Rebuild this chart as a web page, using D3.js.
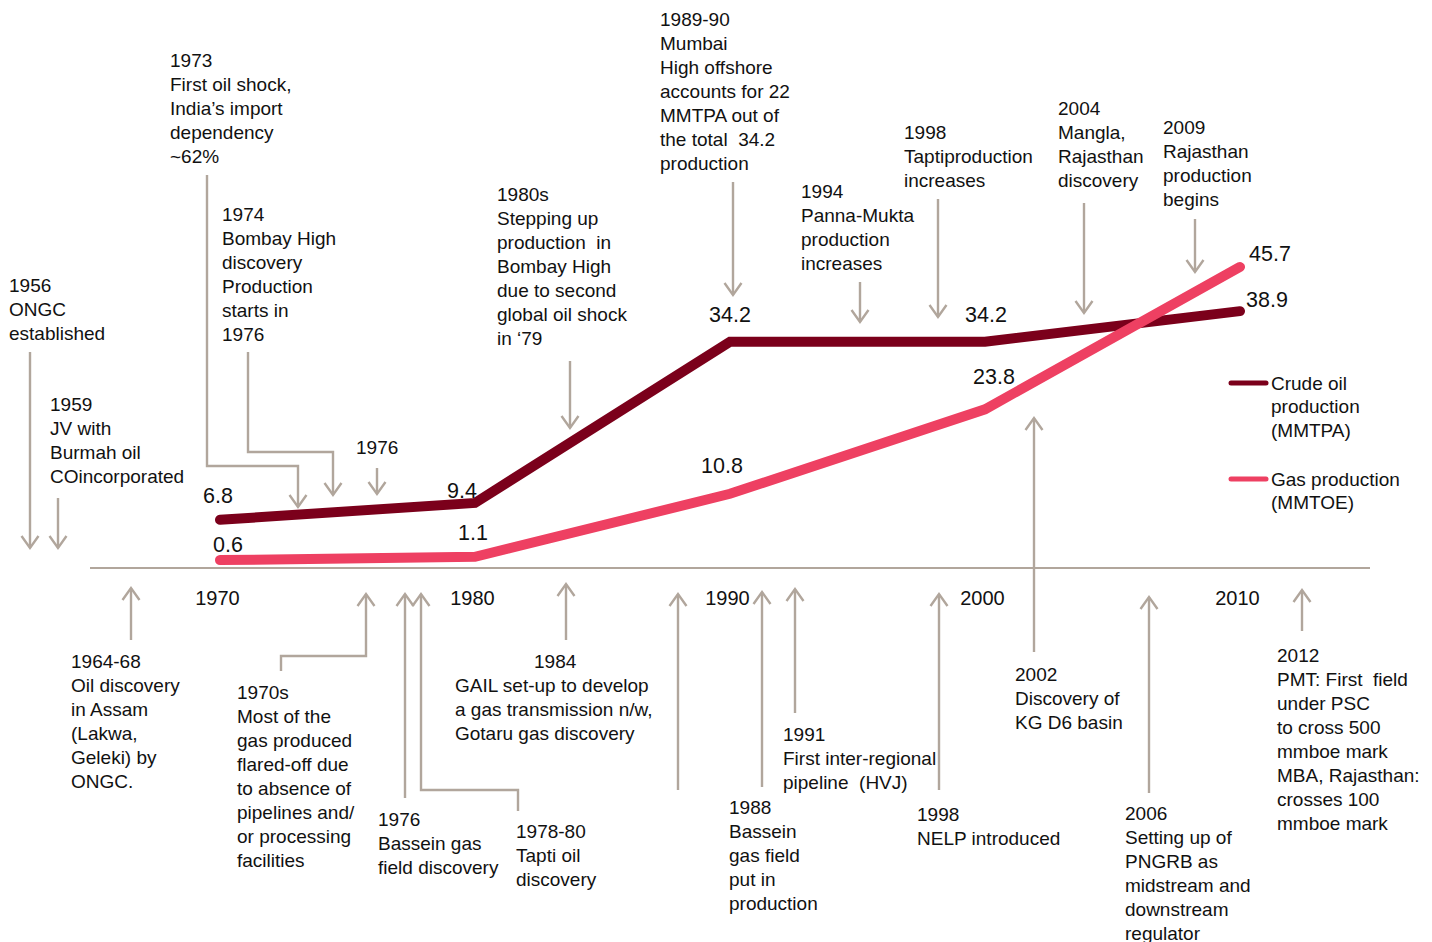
<!DOCTYPE html>
<html>
<head>
<meta charset="utf-8">
<script src="https://cdn.jsdelivr.net/npm/d3@7"></script>
<style>
  html, body { margin: 0; padding: 0; background: #fff; }
  svg { display: block; }
  text { font-family: "Liberation Sans", Arial, Helvetica, sans-serif; fill: #111; white-space: pre; }
</style>
</head>
<body>
<svg id="chart" width="1432" height="942"></svg>
<script>
// ---- data ----
const years = [1970, 1980, 1990, 2000, 2010];
const crudeOil = [6.8, 9.4, 34.2, 34.2, 38.9];   // MMTPA
const gasProd  = [0.6, 1.1, 10.8, 23.8, 45.7];   // MMTOE
const tickYears = [1970, 1980, 1990, 2000, 2010];
const legendLabels = [
  ["Crude oil", "production", "(MMTPA)"],
  ["Gas production", "(MMTOE)"]
];

// timeline milestones (text only)
const milestones = [
  ["1956", "ONGC", "established"],
  ["1959", "JV with", "Burmah oil", "COincorporated"],
  ["1973", "First oil shock,", "India\u2019s import", "dependency", "~62%"],
  ["1974", "Bombay High", "discovery", "Production", "starts in", "1976"],
  ["1976"],
  ["1980s", "Stepping up", "production  in", "Bombay High", "due to second", "global oil shock", "in \u201879"],
  ["1989-90", "Mumbai", "High offshore", "accounts for 22", "MMTPA out of", "the total  34.2", "production"],
  ["1994", "Panna-Mukta", "production", "increases"],
  ["1998", "Taptiproduction", "increases"],
  ["2004", "Mangla,", "Rajasthan", "discovery"],
  ["2009", "Rajasthan", "production", "begins"],
  ["1964-68", "Oil discovery", "in Assam", "(Lakwa,", "Geleki) by", "ONGC."],
  ["1970s", "Most of the", "gas produced", "flared-off due", "to absence of", "pipelines and/", "or processing", "facilities"],
  ["1976", "Bassein gas", "field discovery"],
  ["1978-80", "Tapti oil", "discovery"],
  ["1984", "GAIL set-up to develop", "a gas transmission n/w,", "Gotaru gas discovery"],
  [],
  ["1988", "Bassein", "gas field", "put in", "production"],
  ["1991", "First inter-regional", "pipeline  (HVJ)"],
  ["1998", "NELP introduced"],
  ["2002", "Discovery of", "KG D6 basin"],
  ["2006", "Setting up of", "PNGRB as", "midstream and", "downstream", "regulator"],
  ["2012", "PMT: First  field", "under PSC", "to cross 500", "mmboe mark", "MBA, Rajasthan:", "crosses 100", "mmboe mark"]
];

// ---- layout ----
const COL = { crude: "#7b001b", gas: "#ee4062", grey: "#b1a69c" };
const FONT = 19, LINE_H = 24;

// placement of each milestone: text anchor (left x, first-line centre y),
// optional first-line x override, and the arrow polyline (tip last)
const placement = [
  { tx: 9,    ty: 285, path: [[30, 352], [30, 548]] },
  { tx: 50,   ty: 404, path: [[58, 498], [58, 548]] },
  { tx: 170,  ty: 60,  path: [[207, 175], [207, 466], [298, 466], [298, 507]] },
  { tx: 222,  ty: 214, path: [[248, 352], [248, 452], [333, 452], [333, 495]] },
  { tx: 356,  ty: 447, path: [[377, 468], [377, 494]] },
  { tx: 497,  ty: 194, path: [[570, 361], [570, 428]] },
  { tx: 660,  ty: 19,  path: [[733, 182], [733, 295]] },
  { tx: 801,  ty: 191, path: [[860, 282], [860, 322]] },
  { tx: 904,  ty: 132, path: [[938, 199], [938, 317]] },
  { tx: 1058, ty: 108, path: [[1084, 203], [1084, 313]] },
  { tx: 1163, ty: 127, path: [[1195, 219], [1195, 272]] },
  { tx: 71,   ty: 661, path: [[131, 640], [131, 588]] },
  { tx: 237,  ty: 692, path: [[281, 671], [281, 656], [366, 656], [366, 594]] },
  { tx: 378,  ty: 819, path: [[405, 798], [405, 594]] },
  { tx: 516,  ty: 831, path: [[518, 811], [518, 790], [421, 790], [421, 594]] },
  { tx: 455,  ty: 661, firstX: 534, path: [[566, 640], [566, 584]] },
  { tx: 0,    ty: 0,   path: [[678, 790], [678, 594]] },
  { tx: 729,  ty: 807, path: [[762, 787], [762, 592]] },
  { tx: 783,  ty: 734, path: [[795, 713], [795, 589]] },
  { tx: 917,  ty: 814, path: [[939, 790], [939, 594]] },
  { tx: 1015, ty: 674, path: [[1034, 652], [1034, 418]] },
  { tx: 1125, ty: 813, path: [[1149, 793], [1149, 597]] },
  { tx: 1277, ty: 655, path: [[1302, 631], [1302, 590]] }
];

// value-label offsets from each vertex
const crudeLabelOff = [[-2, -24], [-13, -12], [0, -27], [1, -27], [27, -12]];
const gasLabelOff   = [[8, -16], [-2, -24], [-8, -28], [9, -33], [30, -13]];

const svg = d3.select("#chart");

const x = d3.scaleLinear().domain([1970, 2010]).range([220, 1240]);
const y = d3.scaleLinear().domain([0, 50]).range([564, 239]);

// baseline of the timeline
const AXIS_Y = 568;
svg.append("line")
  .attr("x1", 90).attr("x2", 1370)
  .attr("y1", AXIS_Y).attr("y2", AXIS_Y)
  .attr("stroke", COL.grey).attr("stroke-width", 2.2);

const axis = svg.append("g")
  .attr("transform", `translate(0,${AXIS_Y})`)
  .call(d3.axisBottom(x).tickValues(tickYears).tickFormat(d3.format("d")).tickSize(0));
axis.select(".domain").remove();
axis.selectAll("text")
  .attr("y", 30).attr("dy", "0.35em").attr("x", -3)
  .style("font-family", '"Liberation Sans", Arial, sans-serif')
  .style("font-size", "20px").attr("fill", "#111");

// arrows
function drawArrow(g, pts) {
  const line = d3.line();
  g.append("path").attr("d", line(pts))
    .attr("fill", "none").attr("stroke", COL.grey).attr("stroke-width", 2.4);
  const [px, py] = pts[pts.length - 2];
  const [tx, ty] = pts[pts.length - 1];
  const ang = Math.atan2(ty - py, tx - px);
  const L = 12, Wd = 8.5;
  const bx = tx - L * Math.cos(ang), by = ty - L * Math.sin(ang);
  const nx = -Math.sin(ang), ny = Math.cos(ang);
  g.append("path")
    .attr("d", line([[bx + nx * Wd, by + ny * Wd], [tx, ty], [bx - nx * Wd, by - ny * Wd]]))
    .attr("fill", "none").attr("stroke", COL.grey).attr("stroke-width", 2.4)
    .attr("stroke-linejoin", "miter");
}

const notes = svg.append("g");
milestones.forEach((lines, i) => {
  const p = placement[i];
  drawArrow(notes, p.path);
  if (!lines.length) return;
  const t = notes.append("text").style("font-size", FONT + "px");
  lines.forEach((s, k) => {
    t.append("tspan")
      .attr("x", k === 0 && p.firstX != null ? p.firstX : p.tx)
      .attr("y", p.ty + k * LINE_H)
      .attr("dy", "0.35em")
      .text(s);
  });
});

// production lines
const series = [
  { values: crudeOil, color: COL.crude, off: crudeLabelOff },
  { values: gasProd,  color: COL.gas,   off: gasLabelOff }
];
const lineGen = d3.line().x(d => x(d[0])).y(d => y(d[1]));

series.forEach(s => {
  const pts = years.map((yr, i) => [yr, s.values[i]]);
  svg.append("path").attr("d", lineGen(pts))
    .attr("fill", "none").attr("stroke", s.color)
    .attr("stroke-width", 10).attr("stroke-linecap", "round")
    .attr("stroke-linejoin", "miter");
});

series.forEach(s => {
  svg.append("g").selectAll("text").data(s.values).join("text")
    .attr("x", (d, i) => x(years[i]) + s.off[i][0])
    .attr("y", (d, i) => y(d) + s.off[i][1])
    .attr("dy", "0.35em").attr("text-anchor", "middle")
    .style("font-size", "21.5px")
    .text(d => d3.format(".1f")(d));
});

// legend
const legend = svg.append("g");
[[383, COL.crude, 0], [479, COL.gas, 1]].forEach(([ly, c, k]) => {
  legend.append("line")
    .attr("x1", 1231).attr("x2", 1266).attr("y1", ly).attr("y2", ly)
    .attr("stroke", c).attr("stroke-width", 5).attr("stroke-linecap", "round");
  const t = legend.append("text").style("font-size", FONT + "px");
  legendLabels[k].forEach((s, j) => {
    t.append("tspan").attr("x", 1271).attr("y", ly + j * 23.5).attr("dy", "0.35em").text(s);
  });
});
</script>
</body>
</html>
